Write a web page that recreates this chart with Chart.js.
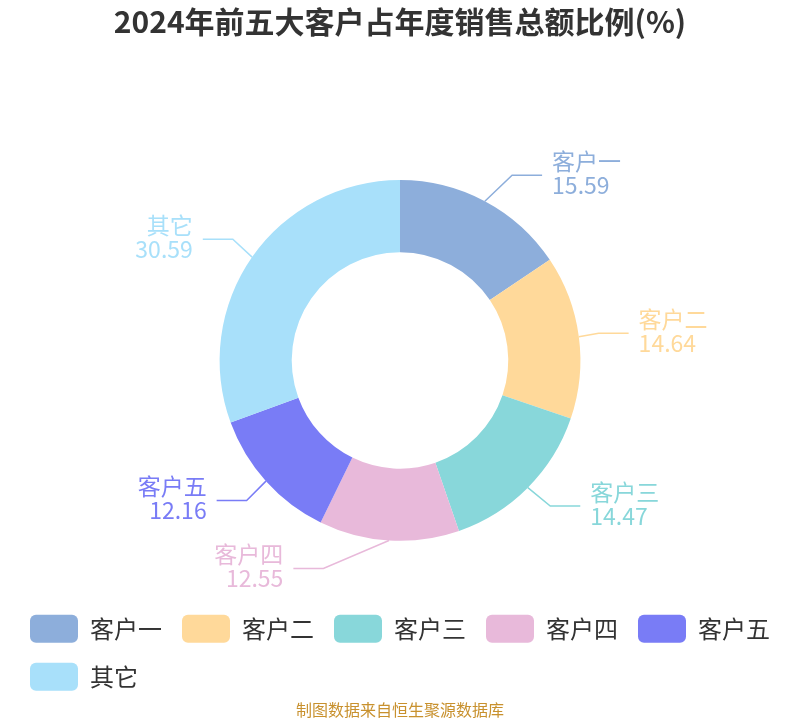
<!DOCTYPE html>
<html>
<head>
<meta charset="utf-8">
<script src="https://cdn.jsdelivr.net/npm/chart.js@4/dist/chart.umd.min.js"></script>
<style>
html,body{margin:0;padding:0;background:#fff;}
#wrap{width:800px;height:720px;}
</style>
</head>
<body>
<div id="wrap"><canvas id="c" width="800" height="720"></canvas></div>
<script>
const titleText = '2024年前五大客户占年度销售总额比例(%)';
const sourceText = '制图数据来自恒生聚源数据库';
const categories = ['客户一', '客户二', '客户三', '客户四', '客户五', '其它'];
const shares = [15.59, 14.64, 14.47, 12.55, 12.16, 30.59];
const colors = ['#8daedb', '#ffd99a', '#88d7da', '#e8b9da', '#797cf6', '#a8e0fa'];

const FONT = '"Noto Sans CJK SC", "Noto Sans", sans-serif';

// layout nudges for the leader-line elbows (to avoid overlap, like the original)
const elbowNudge = [[15, -3], [-6, 0], [4, 0], [-64, 2], [0, 2], [2, -3]];

const leaderLabels = {
  id: 'leaderLabels',
  afterDatasetsDraw(chart) {
    const ctx = chart.ctx;
    const meta = chart.getDatasetMeta(0);
    const ds = chart.data.datasets[0];
    meta.data.forEach((arc, i) => {
      const p = arc.getProps(['x', 'y', 'startAngle', 'endAngle', 'outerRadius'], true);
      const mid = (p.startAngle + p.endAngle) / 2;
      const r0 = p.outerRadius;
      const x0 = p.x + Math.cos(mid) * r0;
      const y0 = p.y + Math.sin(mid) * r0;
      const n = elbowNudge[i] || [0, 0];
      const x1 = p.x + Math.cos(mid) * (r0 + 26) + n[0];
      const y1 = p.y + Math.sin(mid) * (r0 + 26) + n[1];
      const right = x1 >= p.x && i !== 3;
      const x2 = x1 + (right ? 30 : -30);
      const col = ds.backgroundColor[i];
      ctx.save();
      ctx.strokeStyle = col;
      ctx.lineWidth = 1.5;
      ctx.beginPath();
      ctx.moveTo(x0, y0);
      ctx.lineTo(x1, y1);
      ctx.lineTo(x2, y1);
      ctx.stroke();
      ctx.fillStyle = col;
      ctx.font = '23px ' + FONT;
      ctx.textBaseline = 'middle';
      ctx.textAlign = right ? 'left' : 'right';
      const tx = x2 + (right ? 10 : -10);
      ctx.fillText(chart.data.labels[i], tx, y1 - 14);
      ctx.fillText(ds.data[i].toFixed(2), tx, y1 + 10);
      ctx.restore();
    });
  }
};

new Chart(document.getElementById('c'), {
  type: 'doughnut',
  data: {
    labels: categories,
    datasets: [{
      data: shares,
      backgroundColor: colors,
      borderWidth: 0,
      hoverOffset: 0
    }]
  },
  plugins: [leaderLabels],
  options: {
    responsive: false,
    animation: false,
    cutout: '60%',
    layout: { padding: { left: 10, right: 10, top: 0, bottom: 0 } },
    plugins: {
      tooltip: { enabled: false },
      title: {
        display: true,
        text: titleText,
        color: '#333333',
        font: { family: FONT, size: 30, weight: 'bold', lineHeight: 1.2 },
        padding: { top: 4, bottom: 140 }
      },
      subtitle: {
        display: true,
        position: 'bottom',
        text: sourceText,
        color: '#c8912e',
        font: { family: FONT, size: 16, lineHeight: 1.2 },
        padding: { top: 0, bottom: 0 }
      },
      legend: {
        position: 'bottom',
        align: 'start',
        title: {
          display: true,
          text: ' ',
          font: { size: 1, lineHeight: 1 },
          padding: { top: 53, bottom: 0 }
        },
        labels: {
          boxWidth: 48,
          boxHeight: 28,
          useBorderRadius: true,
          borderRadius: 6,
          padding: 20,
          color: '#333333',
          font: { family: FONT, size: 24 }
        }
      }
    }
  }
});
</script>
</body>
</html>
